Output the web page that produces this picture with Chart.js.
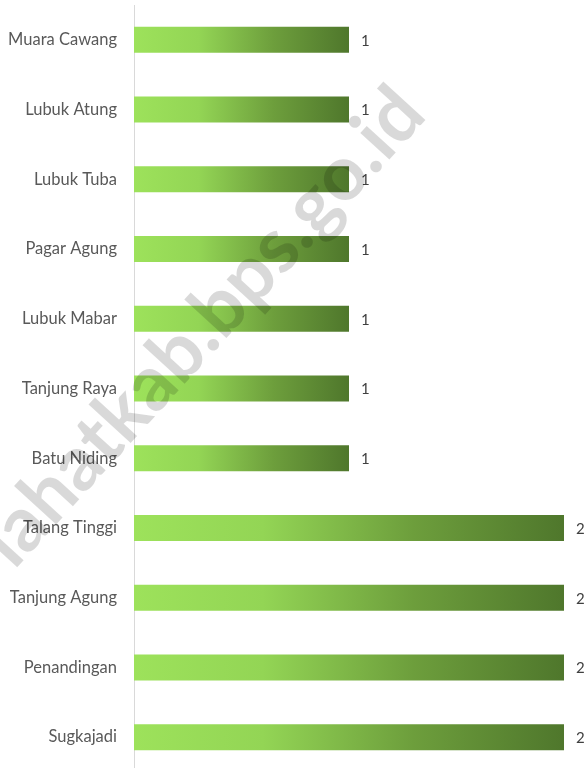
<!DOCTYPE html>
<html>
<head>
<meta charset="utf-8">
<script src="https://cdn.jsdelivr.net/npm/chart.js@4"></script>
<style>
  html, body { margin: 0; padding: 0; background: #fff; overflow: hidden; }
  #wrap { width: 586px; height: 772px; position: relative; }
</style>
</head>
<body>
<div id="wrap"><canvas id="myChart"></canvas></div>
<script>
const labels = [
  'Muara Cawang',
  'Lubuk Atung',
  'Lubuk Tuba',
  'Pagar Agung',
  'Lubuk Mabar',
  'Tanjung Raya',
  'Batu Niding',
  'Talang Tinggi',
  'Tanjung Agung',
  'Penandingan',
  'Sugkajadi',
];

const values = [1, 1, 1, 1, 1, 1, 1, 2, 2, 2, 2];

const watermark = 'lahatkab.bps.go.id';

// each bar gets its own left-to-right gradient
function barGradient(context) {
  const chart = context.chart;
  const xs = chart.scales.x;
  if (!chart.chartArea || !xs) return '#8cc94c';
  const x0 = xs.getPixelForValue(0);
  const x1 = xs.getPixelForValue(context.raw);
  const g = chart.ctx.createLinearGradient(x0, 0, x1, 0);
  g.addColorStop(0, '#9de25b');
  g.addColorStop(0.3, '#93d555');
  g.addColorStop(0.65, '#6d9e3c');
  g.addColorStop(1, '#4f772c');
  return g;
}

const valueLabels = {
  id: 'valueLabels',
  afterDatasetsDraw(chart) {
    const ctx = chart.ctx;
    const meta = chart.getDatasetMeta(0);
    ctx.save();
    ctx.font = '15px Lato';
    ctx.fillStyle = '#404040';
    ctx.textAlign = 'left';
    ctx.textBaseline = 'middle';
    meta.data.forEach((bar, i) => {
      ctx.fillText(String(values[i]), bar.x + 12, bar.y + 1);
    });
    ctx.restore();
  }
};

const watermarkPlugin = {
  id: 'watermark',
  afterDraw(chart) {
    const ctx = chart.ctx;
    ctx.save();
    ctx.translate(203, 327);
    ctx.rotate(-47.6 * Math.PI / 180);
    ctx.font = 'bold 60px Lato';
    const w = ctx.measureText(watermark).width;
    const s = 615 / w;
    ctx.scale(s, s);
    ctx.fillStyle = 'rgba(0, 0, 0, 0.15)';
    ctx.textAlign = 'center';
    ctx.textBaseline = 'middle';
    ctx.fillText(watermark, 0, 0);
    ctx.restore();
  }
};

const data = {
  labels: labels,
  datasets: [{
    data: values,
    backgroundColor: barGradient,
    barPercentage: 0.373,
    categoryPercentage: 1,
  }]
};

const config = {
  type: 'bar',
  data,
  options: {
    indexAxis: 'y',
    responsive: true,
    maintainAspectRatio: false,
    animation: false,
    layout: { padding: { top: 5, right: 22, bottom: 0, left: 0 } },
    plugins: {
      legend: { display: false },
      tooltip: { enabled: false }
    },
    scales: {
      x: {
        display: false,
        min: 0,
        max: 2
      },
      y: {
        afterFit(axis) {
          axis.width = 134;
          axis.paddingTop = 0;
          axis.paddingBottom = 0;
        },
        grid: { display: false, drawTicks: false },
        border: { display: true, color: '#d9d9d9', width: 1 },
        ticks: {
          padding: 17,
          color: '#595959',
          font: { family: 'Lato', size: 16.5 }
        }
      }
    }
  },
  plugins: [valueLabels, watermarkPlugin]
};

var myChart = new Chart(
  document.getElementById('myChart'),
  config
);
</script>
</body>
</html>
